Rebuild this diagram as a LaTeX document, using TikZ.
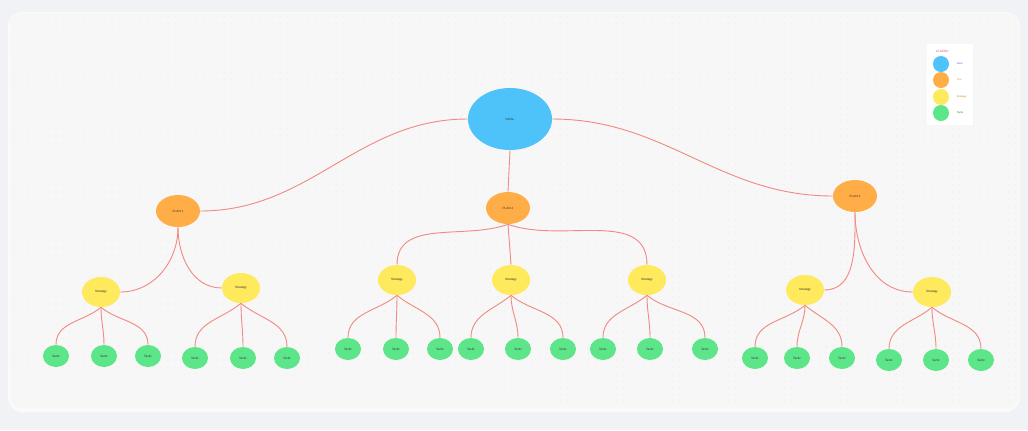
\documentclass[tikz,border=0pt]{standalone}
\usepackage{fontspec}
\setmainfont{Liberation Sans}
\usetikzlibrary{shapes.geometric,patterns.meta}
\definecolor{pagegray}{HTML}{F1F2F5}
\definecolor{cardgray}{HTML}{F7F7F7}
\definecolor{dotgray}{HTML}{D6D6D6}
\definecolor{goalblue}{HTML}{4DC3FA}
\definecolor{planorange}{HTML}{FFAD47}
\definecolor{strategyyellow}{HTML}{FFE95C}
\definecolor{tacticgreen}{HTML}{5CE589}
\definecolor{linkred}{HTML}{F08A82}
\definecolor{legendred}{HTML}{E0607E}

\begin{document}
\begin{tikzpicture}[x=0.025cm,y=-0.025cm,
    every node/.style={font=\fontsize{2.2}{2.6}\selectfont, text=black!80},
    goalnode/.style={ellipse, fill=goalblue, minimum width=2.1cm, minimum height=1.55cm, inner sep=0pt},
    plannode/.style={ellipse, fill=planorange, minimum width=1.1cm, minimum height=0.8cm, inner sep=0pt},
    stratnode/.style={ellipse, fill=strategyyellow, minimum width=0.95cm, minimum height=0.75cm, inner sep=0pt},
    tacticnode/.style={ellipse, fill=tacticgreen, minimum width=0.65cm, minimum height=0.55cm, inner sep=0pt},
    link/.style={draw=linkred, line width=0.65pt},
    legenddot/.style={circle, minimum size=0.4cm, inner sep=0pt},
    legendtext/.style={anchor=west, font=\fontsize{1.8}{2}\selectfont}]
    \useasboundingbox (0,0) rectangle (1028,430);

    % page and card
    \fill[pagegray] (0,0) rectangle (1028,430);
    \fill[black!2, rounded corners=10] (8,12) rectangle (1020,412);
    \fill[black!3, rounded corners=8] (10,13) rectangle (1018,408);
    \fill[cardgray, rounded corners=6] (12,14) rectangle (1016,405);
    \fill[pattern={Dots[distance=0.175cm, radius=0.25pt]}, pattern color=dotgray, rounded corners=6] (12,14) rectangle (1016,405);

    % goal and plans
    \node[goalnode] (goal) at (510,119) {GOAL};
    \node[plannode] (plan1) at (178,211) {PLAN 1};
    \node[plannode] (plan2) at (508,208) {PLAN 2};
    \node[plannode] (plan3) at (855,196) {PLAN 3};

    % strategies
    \node[stratnode] (s1) at (101,292) {Strategy};
    \node[stratnode] (s2) at (241,288) {Strategy};
    \node[stratnode] (s3) at (397,280) {Strategy};
    \node[stratnode] (s4) at (511,280) {Strategy};
    \node[stratnode] (s5) at (647,280) {Strategy};
    \node[stratnode] (s6) at (805,290) {Strategy};
    \node[stratnode] (s7) at (932,292) {Strategy};

    % tactics
    \node[tacticnode] (t11) at (56,356) {Tactic};
    \node[tacticnode] (t12) at (104,356) {Tactic};
    \node[tacticnode] (t13) at (148,356) {Tactic};
    \node[tacticnode] (t21) at (195,358) {Tactic};
    \node[tacticnode] (t22) at (243,358) {Tactic};
    \node[tacticnode] (t23) at (287,358) {Tactic};
    \node[tacticnode] (t31) at (348,349) {Tactic};
    \node[tacticnode] (t32) at (396,349) {Tactic};
    \node[tacticnode] (t33) at (440,349) {Tactic};
    \node[tacticnode] (t41) at (471,349) {Tactic};
    \node[tacticnode] (t42) at (518,349) {Tactic};
    \node[tacticnode] (t43) at (563,349) {Tactic};
    \node[tacticnode] (t51) at (603,349) {Tactic};
    \node[tacticnode] (t52) at (650,349) {Tactic};
    \node[tacticnode] (t53) at (705,349) {Tactic};
    \node[tacticnode] (t61) at (755,358) {Tactic};
    \node[tacticnode] (t62) at (797,358) {Tactic};
    \node[tacticnode] (t63) at (842,358) {Tactic};
    \node[tacticnode] (t71) at (889,360) {Tactic};
    \node[tacticnode] (t72) at (936,360) {Tactic};
    \node[tacticnode] (t73) at (981,360) {Tactic};

    % links
    \draw[link] (goal.west) to[out=180, in=0] (plan1.east);
    \draw[link] (goal.south) -- (plan2.north);
    \draw[link] (goal.east) to[out=0, in=180] (plan3.west);

    \draw[link] (plan1.south) to[out=-90, in=0] (s1.east);
    \draw[link] (plan1.south) to[out=-90, in=180] (s2.west);
    \draw[link] (plan2.south) to[out=-160, in=90] (s3.north);
    \draw[link] (plan2.south) -- (s4.north);
    \draw[link] (plan2.south) to[out=-20, in=90] (s5.north);
    \draw[link] (plan3.south) to[out=-90, in=0] (s6.east);
    \draw[link] (plan3.south) to[out=-90, in=180] (s7.west);

    \foreach \s in {1,...,7} {
        \draw[link] (s\s.south) to[out=-140, in=90] (t\s1.north);
        \draw[link] (s\s.south) to[out=-90, in=90] (t\s2.north);
        \draw[link] (s\s.south) to[out=-40, in=90] (t\s3.north);
    }

    % legend
    \fill[white] (927,44) rectangle (973,125);
    \node[anchor=west, text=legendred, font=\fontsize{2.2}{2.6}\selectfont] (legendtitle) at (931,51) {LEGEND};
    \node[legenddot, fill=goalblue] (lgoal) at (941,64) {};
    \node[legenddot, fill=planorange] (lplan) at (941,80) {};
    \node[legenddot, fill=strategyyellow] (lstrat) at (941,97) {};
    \node[legenddot, fill=tacticgreen] (ltactic) at (941,113) {};
    \node[legendtext, text=blue!70] at (952,64) {Goal};
    \node[legendtext, text=planorange!90!black] at (952,80) {Plan};
    \node[legendtext, text=orange!90!black] at (952,97) {Strategy};
    \node[legendtext, text=green!50!black] at (952,113) {Tactic};
\end{tikzpicture}
\end{document}
